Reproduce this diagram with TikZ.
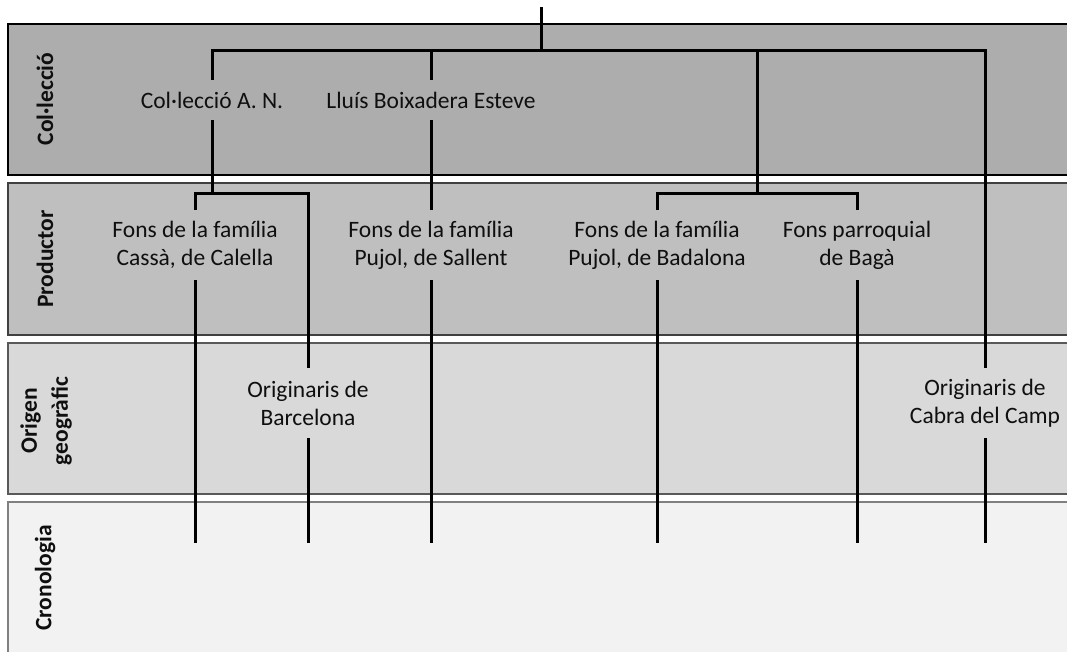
\documentclass[tikz,border=0pt]{standalone}
\usepackage{fontspec}
\setmainfont{Carlito}
\definecolor{bandA}{HTML}{ADADAD}
\definecolor{bandB}{HTML}{BFBFBF}
\definecolor{bandC}{HTML}{D9D9D9}
\definecolor{bandD}{HTML}{F2F2F2}
\definecolor{edgeB}{HTML}{404040}
\definecolor{edgeC}{HTML}{595959}
\definecolor{edgeD}{HTML}{808080}
\definecolor{txt}{HTML}{0F0F0F}
\tikzset{
  band/.style={line width=2.5pt},
  lbl/.style={font=\fontsize{23.5}{31}\selectfont\bfseries, text=txt, rotate=90, align=center, inner sep=0pt},
  item/.style={font=\fontsize{23.5}{28}\selectfont, text=txt, align=center, inner sep=0pt, minimum height=#1},
  item/.default=70pt,
  conn/.style={line width=3pt, draw=black},
}
\begin{document}
\begin{tikzpicture}[x=1pt,y=-1pt]
\useasboundingbox (0,0) rectangle (1067,651);
\clip (0,0) rectangle (1067,651);
% bands
\filldraw[band, draw=black, fill=bandA] (8,24) rectangle (1090,175);
\filldraw[band, draw=edgeB, fill=bandB] (8,183) rectangle (1090,335);
\filldraw[band, draw=edgeC, fill=bandC] (8,343) rectangle (1090,494);
\filldraw[band, draw=edgeD, fill=bandD] (8,502) rectangle (1090,670);
% band labels
\node[lbl] (lcol) at (45,99) {Col·lecció};
\node[lbl] (lprod) at (45,259) {Productor};
\node[lbl] (lorig) at (46,421) {Origen\\geogràfic};
\node[lbl] (lcron) at (45,578) {Cronologia};
% items
\node[item=40pt] (c1) at (212,100) {Col·lecció A. N.};
\node[item=40pt] (c2) at (431,100) {Lluís Boixadera Esteve};
\node[item] (p1) at (195,245) {Fons de la família\\Cassà, de Calella};
\node[item] (p2) at (431,245) {Fons de la família\\Pujol, de Sallent};
\node[item] (p3) at (657,245) {Fons de la família\\Pujol, de Badalona};
\node[item] (p4) at (857,245) {Fons parroquial\\de Bagà};
\node[item] (o1) at (308,403) {Originaris de\\Barcelona};
\node[item] (o2) at (985,403) {Originaris de\\Cabra del Camp};
% junctions
\coordinate (top) at (541,7);
\coordinate (bus1) at (541,50);
\coordinate (bus2) at (212,193);
\coordinate (bus3) at (757,193);
\coordinate (e1) at (195,543);
\coordinate (e2) at (308,543);
\coordinate (e3) at (431,543);
\coordinate (e4) at (657,543);
\coordinate (e5) at (857,543);
\coordinate (e6) at (985,543);
% connectors
\draw[conn] (top) -- (bus1);
\draw[conn] (c1.north) |- (bus1) -| (o2.north);
\draw[conn] (c2.north) -- (c2.north |- bus1);
\draw[conn] (bus1 -| bus3) -- (bus3);
\draw[conn] (c1.south) -- (bus2);
\draw[conn] (p1.north) |- (bus2) -| (o1.north);
\draw[conn] (c2.south) -- (p2.north);
\draw[conn] (p3.north) |- (bus3) -| (p4.north);
\draw[conn] (p1.south) -- (e1);
\draw[conn] (o1.south) -- (e2);
\draw[conn] (p2.south) -- (e3);
\draw[conn] (p3.south) -- (e4);
\draw[conn] (p4.south) -- (e5);
\draw[conn] (o2.south) -- (e6);
\end{tikzpicture}
\end{document}
